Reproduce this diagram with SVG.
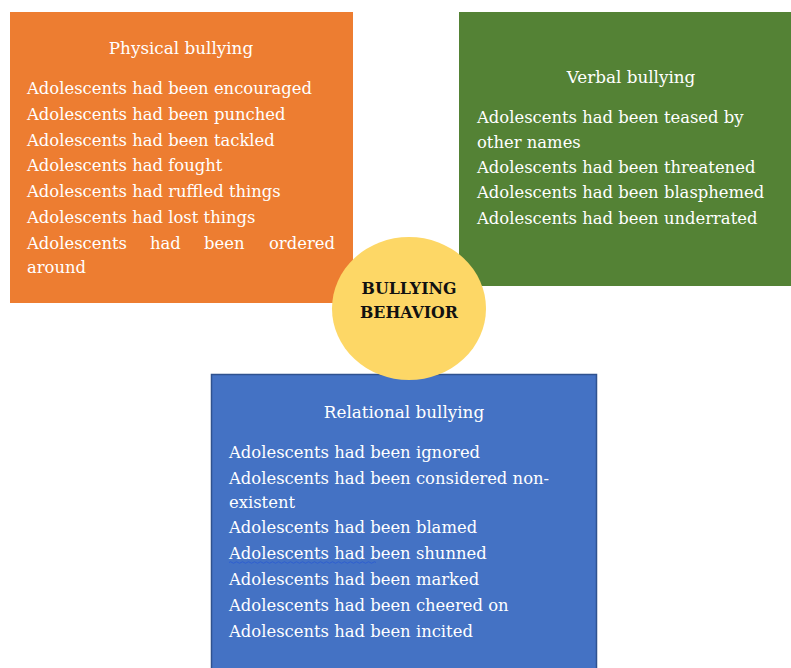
<svg xmlns="http://www.w3.org/2000/svg" width="791" height="668" viewBox="0 0 791 668">
<style>
.t{font-family:"DejaVu Serif","Liberation Serif",serif;font-size:16.4px;fill:#ffffff}
.h{font-family:"DejaVu Serif","Liberation Serif",serif;font-size:16.8px;fill:#ffffff;text-anchor:middle}
.c{font-family:"DejaVu Serif","Liberation Serif",serif;font-size:15.8px;font-weight:bold;fill:#111111;text-anchor:middle}
</style>
<rect width="791" height="668" fill="#ffffff"/>
<g id="physical">
<rect x="10" y="12" width="343" height="291" fill="#ED7D31"/>
<text class="h" x="181" y="54">Physical bullying</text>
<text class="t" x="27" y="94">Adolescents had been encouraged</text>
<text class="t" x="27" y="120">Adolescents had been punched</text>
<text class="t" x="27" y="146">Adolescents had been tackled</text>
<text class="t" x="27" y="171">Adolescents had fought</text>
<text class="t" x="27" y="197">Adolescents had ruffled things</text>
<text class="t" x="27" y="223">Adolescents had lost things</text>
<text class="t" y="249"><tspan x="27">Adolescents</tspan><tspan x="150">had</tspan><tspan x="204">been</tspan><tspan x="269">ordered</tspan></text>
<text class="t" x="27" y="273">around</text>
</g>
<g id="verbal">
<rect x="459" y="12" width="332" height="274" fill="#548235"/>
<text class="h" x="631" y="83">Verbal bullying</text>
<text class="t" x="477" y="123">Adolescents had been teased by</text>
<text class="t" x="477" y="148">other names</text>
<text class="t" x="477" y="173">Adolescents had been threatened</text>
<text class="t" x="477" y="198">Adolescents had been blasphemed</text>
<text class="t" x="477" y="224">Adolescents had been underrated</text>
</g>
<g id="relational">
<rect x="211.5" y="374.5" width="385" height="300" fill="#4472C4" stroke="#2F528F" stroke-width="1.5"/>
<text class="h" x="404" y="418">Relational bullying</text>
<text class="t" x="229" y="458">Adolescents had been ignored</text>
<text class="t" x="229" y="484">Adolescents had been considered non-</text>
<text class="t" x="229" y="508">existent</text>
<text class="t" x="229" y="533">Adolescents had been blamed</text>
<text class="t" x="229" y="559">Adolescents  had been shunned</text>
<path d="M229 562.5 q1.5 -1.5 3 0 t3 0 t3 0 t3 0 t3 0 t3 0 t3 0 t3 0 t3 0 t3 0 t3 0 t3 0 t3 0 t3 0 t3 0 t3 0 t3 0 t3 0 t3 0 t3 0 t3 0 t3 0 t3 0 t3 0 t3 0 t3 0 t3 0 t3 0 t3 0 t3 0 t3 0 t3 0 t3 0 t3 0 t3 0 t3 0 t3 0 t3 0 t3 0 t3 0 t3 0 t3 0 t3 0 t3 0 t3 0 t3 0 t3 0 t3 0 t3 0" fill="none" stroke="#2E5FD0" stroke-width="1"/>
<text class="t" x="229" y="585">Adolescents had been marked</text>
<text class="t" x="229" y="611">Adolescents had been cheered on</text>
<text class="t" x="229" y="637">Adolescents had been incited</text>
</g>
<g id="center">
<ellipse cx="409" cy="308.5" rx="77" ry="71.5" fill="#FDD766"/>
<text class="c" x="409" y="294">BULLYING</text>
<text class="c" x="409" y="318">BEHAVIOR</text>
</g>
<g id="connectors"></g>
</svg>
